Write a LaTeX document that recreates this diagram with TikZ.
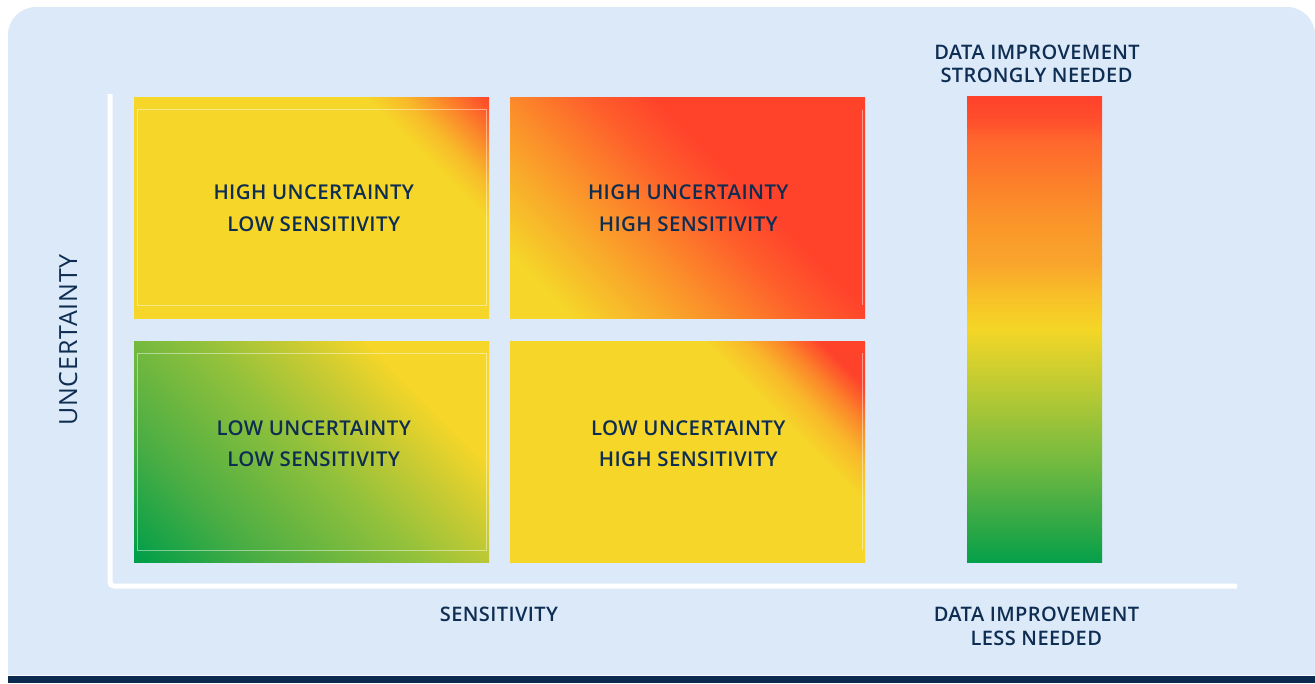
\documentclass[tikz,border=0pt]{standalone}
\usepackage{fontspec}
\setmainfont{Open Sans}
\IfFontExistsTF{Open Sans SemiBold}
  {\newfontfamily\semib{Open Sans SemiBold}[LetterSpace=2]\def\wt{\mdseries}}
  {\IfFontExistsTF{Open Sans Semibold}
    {\newfontfamily\semib{Open Sans Semibold}[LetterSpace=2]\def\wt{\mdseries}}
    {\newfontfamily\semib{Open Sans}[UprightFont=*, BoldFont=* Bold, LetterSpace=2]\def\wt{\bfseries}}}
\newfontfamily\regf{Open Sans}[LetterSpace=3]

\definecolor{panel}{HTML}{DCE9F8}
\definecolor{navy}{HTML}{0B2A50}
\definecolor{txt}{HTML}{0E2D52}
\definecolor{yel}{HTML}{F6D629}
\definecolor{redc}{HTML}{FF432B}
\definecolor{oa}{HTML}{F8BA2A}
\definecolor{ob}{HTML}{FB8B2A}
\definecolor{oc}{HTML}{F9A82A}
\definecolor{od}{HTML}{FC842A}
\definecolor{oe}{HTML}{FE5E2B}
\definecolor{ga}{HTML}{009E49}
\definecolor{gb}{HTML}{48AD44}
\definecolor{gc}{HTML}{93C13B}
\definecolor{gd}{HTML}{C4CA33}
% colour bar colours
\definecolor{b1}{HTML}{FF412B}
\definecolor{b2}{HTML}{FF512C}
\definecolor{b3}{HTML}{FF652C}
\definecolor{b4}{HTML}{FC7F2A}
\definecolor{b5}{HTML}{FA952A}
\definecolor{b6}{HTML}{F9A52B}
\definecolor{b7}{HTML}{F8C028}
\definecolor{b8}{HTML}{F4D626}
\definecolor{b9}{HTML}{D3CF2E}
\definecolor{b10}{HTML}{B4C934}
\definecolor{b11}{HTML}{93C13B}
\definecolor{b12}{HTML}{72BA3F}
\definecolor{b13}{HTML}{4FB043}
\definecolor{b14}{HTML}{2BA746}
\definecolor{b15}{HTML}{05A04A}

\pgfdeclareverticalshading{tlshade}{100bp}{color(0bp)=(yel); color(64bp)=(yel); color(67bp)=(oa); color(70bp)=(ob); color(74.5bp)=(redc); color(100bp)=(redc)}
\pgfdeclareverticalshading{brshade}{100bp}{color(0bp)=(yel); color(60.7bp)=(yel); color(64bp)=(oa); color(67bp)=(ob); color(70.5bp)=(redc); color(100bp)=(redc)}
\pgfdeclareverticalshading{trshade}{100bp}{color(0bp)=(yel); color(31bp)=(yel); color(39bp)=(oc); color(45bp)=(od); color(51bp)=(oe); color(56.5bp)=(redc); color(100bp)=(redc)}
\pgfdeclareverticalshading{blshade}{100bp}{color(0bp)=(ga); color(26bp)=(ga); color(36bp)=(gb); color(50bp)=(gc); color(57bp)=(gd); color(64bp)=(yel); color(100bp)=(yel)}
\pgfdeclareverticalshading{barshade}{100bp}{color(0bp)=(b15); color(25bp)=(b15); color(28.5bp)=(b14); color(32.1bp)=(b13); color(35.6bp)=(b12); color(39.3bp)=(b11); color(42.8bp)=(b10); color(46.3bp)=(b9); color(50bp)=(b8); color(53.5bp)=(b7); color(57bp)=(b6); color(61.5bp)=(b5); color(65.8bp)=(b4); color(70.4bp)=(b3); color(72.1bp)=(b2); color(75bp)=(b1); color(100bp)=(b1)}

\newcommand\qbox[5]{%
  \begin{scope}
    \clip (#1,#2) rectangle (#3,#4);
    \shade[shading=#5, shading angle=-45]
      ({(#1+#3)/2-210},{(#2+#4)/2-210}) rectangle ({(#1+#3)/2+210},{(#2+#4)/2+210});
  \end{scope}}

\tikzset{
  qtext/.style={anchor=base, inner sep=0pt, text=txt, font=\semib\wt\fontsize{20.4}{24}\selectfont},
  ltext/.style={anchor=base, inner sep=0pt, text=txt, font=\semib\wt\fontsize{20}{24}\selectfont},
  axisline/.style={draw=white, line width=5pt, rounded corners=4pt},
  faint/.style={draw=white, draw opacity=0.45, line width=0.8pt}
}

\begin{document}
\begin{tikzpicture}[x=1pt,y=-1pt]
\useasboundingbox (0,0) rectangle (1315,683);
\fill[white] (0,0) rectangle (1315,683);
% panel
\fill[panel, rounded corners=28pt] (8,7) rectangle (1315,675);
\fill[panel] (8,120) rectangle (1315,675);
\fill[navy] (8,675.5) rectangle (1315,683);

% quadrants
\qbox{134}{97}{489}{318}{tlshade}
\qbox{510}{97}{865}{318}{trshade}
\qbox{134}{341}{489}{562}{blshade}
\qbox{510}{341}{865}{562}{brshade}

% faint inner frames
\draw[faint] (137,109) rectangle (486,305);
\draw[faint] (137,353) rectangle (486,550);
\draw[faint] (862,110) -- (862,305);
\draw[faint] (862,353) -- (862,550);

% colour bar
\shade[shading=barshade] (967,96) rectangle (1102,562);

% axes
\coordinate (ytop) at (110,94);
\coordinate (orig) at (110,586);
\coordinate (xend) at (1237,586);
\draw[axisline] (ytop) -- (orig) -- (xend);

% quadrant texts
\node[qtext] (tla) at (313.8,199.3) {HIGH UNCERTAINTY};
\node[qtext] (tlb) at (313.8,231.5) {LOW SENSITIVITY};
\node[qtext] (tra) at (688.3,199.3) {HIGH UNCERTAINTY};
\node[qtext] (trb) at (688.3,231.5) {HIGH SENSITIVITY};
\node[qtext] (bla) at (313.7,435.7) {LOW UNCERTAINTY};
\node[qtext] (blb) at (313.7,466.7) {LOW SENSITIVITY};
\node[qtext] (bra) at (688.3,435.7) {LOW UNCERTAINTY};
\node[qtext] (brb) at (688.3,466.7) {HIGH SENSITIVITY};

% axis labels
\node[anchor=base, inner sep=0pt, text=txt, font=\regf\fontsize{25}{28}\selectfont, rotate=90] (ylab) at (77,340) {UNCERTAINTY};
\node[ltext] (xlab) at (499,621) {SENSITIVITY};

% bar labels
\node[ltext] (topa) at (1037,59.3) {DATA IMPROVEMENT};
\node[ltext] (topb) at (1036.5,82.7) {STRONGLY NEEDED};
\node[ltext] (bota) at (1036.5,621) {DATA IMPROVEMENT};
\node[ltext] (botb) at (1036.3,645) {LESS NEEDED};
\end{tikzpicture}
\end{document}
